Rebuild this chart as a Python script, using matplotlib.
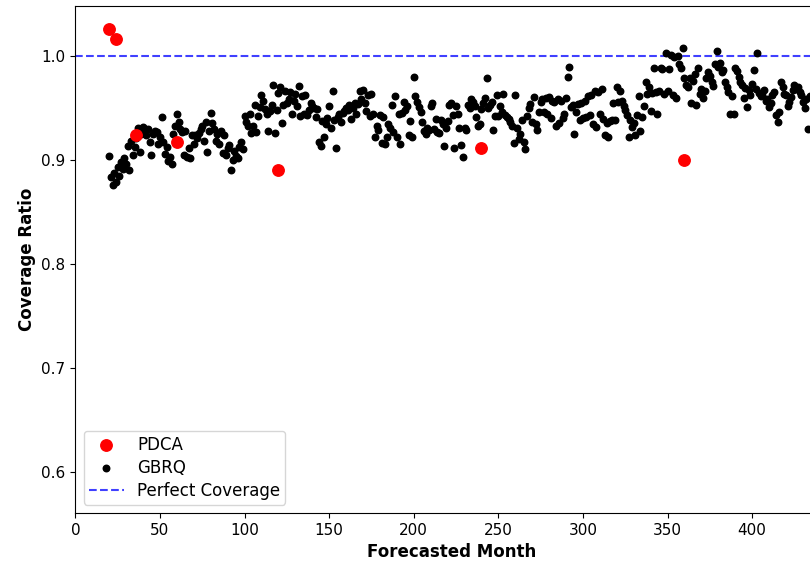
import numpy as np
import matplotlib
matplotlib.use("Agg")
import matplotlib.pyplot as plt

# PDCA forecasts (red)
pdca_month = [20, 24, 36, 60, 120, 240, 360]
pdca_cov = [1.026, 1.016, 0.924, 0.917, 0.890, 0.911, 0.900]

# GBRQ coverage, one value per month starting at month 20
gbrq_start = 20
gbrq_cov = [
    # 20-29
    0.904, 0.884, 0.876, 0.887, 0.879, 0.893, 0.885, 0.898, 0.891, 0.902,
    # 30-39
    0.896, 0.913, 0.890, 0.918, 0.905, 0.912, 0.921, 0.931, 0.908, 0.925,
    # 40-49
    0.932, 0.930, 0.924, 0.930, 0.917, 0.905, 0.925, 0.928, 0.927, 0.915,
    # 50-59
    0.922, 0.941, 0.917, 0.906, 0.912, 0.899, 0.903, 0.896, 0.925, 0.933,
    # 60-69
    0.944, 0.936, 0.930, 0.927, 0.905, 0.928, 0.903, 0.911, 0.902, 0.924,
    # 70-79
    0.915, 0.924, 0.921, 0.926, 0.930, 0.933, 0.918, 0.936, 0.908, 0.928,
    # 80-89
    0.945, 0.935, 0.930, 0.918, 0.925, 0.915, 0.928, 0.907, 0.924, 0.905,
    # 90-99
    0.911, 0.914, 0.890, 0.900, 0.909, 0.904, 0.902, 0.912, 0.917, 0.910,
    # 100-109
    0.942, 0.936, 0.933, 0.944, 0.926, 0.933, 0.953, 0.927, 0.942, 0.951,
    # 110-119
    0.962, 0.957, 0.949, 0.944, 0.928, 0.947, 0.953, 0.972, 0.926, 0.948,
    # 120-129
    0.964, 0.970, 0.935, 0.953, 0.966, 0.955, 0.958, 0.965, 0.944, 0.957,
    # 130-139
    0.963, 0.952, 0.971, 0.942, 0.961, 0.944, 0.962, 0.943, 0.948, 0.955,
    # 140-149
    0.952, 0.950, 0.941, 0.949, 0.917, 0.913, 0.937, 0.922, 0.934, 0.940,
    # 150-159
    0.952, 0.931, 0.966, 0.938, 0.911, 0.941, 0.944, 0.936, 0.945, 0.947,
    # 160-169
    0.950, 0.948, 0.953, 0.939, 0.950, 0.955, 0.944, 0.954, 0.966, 0.958,
    # 170-179
    0.967, 0.955, 0.947, 0.962, 0.942, 0.963, 0.944, 0.922, 0.933, 0.929,
    # 180-189
    0.943, 0.916, 0.941, 0.915, 0.922, 0.934, 0.931, 0.953, 0.927, 0.961,
    # 190-199
    0.922, 0.944, 0.915, 0.945, 0.956, 0.948, 0.952, 0.924, 0.937, 0.922,
    # 200-209
    0.980, 0.961, 0.956, 0.951, 0.946, 0.936, 0.928, 0.925, 0.931, 0.929,
    # 210-219
    0.952, 0.955, 0.930, 0.939, 0.927, 0.926, 0.938, 0.934, 0.913, 0.931,
    # 220-229
    0.937, 0.953, 0.955, 0.943, 0.911, 0.952, 0.944, 0.931, 0.914, 0.903,
    # 230-239
    0.931, 0.929, 0.953, 0.950, 0.958, 0.956, 0.952, 0.941, 0.933, 0.934,
    # 240-249
    0.949, 0.955, 0.959, 0.979, 0.950, 0.953, 0.956, 0.929, 0.942, 0.962,
    # 250-259
    0.942, 0.952, 0.946, 0.963, 0.943, 0.941, 0.939, 0.936, 0.933, 0.916,
    # 260-269
    0.962, 0.931, 0.920, 0.925, 0.938, 0.917, 0.910, 0.942, 0.950, 0.954,
    # 270-279
    0.936, 0.960, 0.934, 0.929, 0.946, 0.956, 0.958, 0.946, 0.959, 0.944,
    # 280-289
    0.960, 0.940, 0.957, 0.956, 0.933, 0.958, 0.935, 0.957, 0.940, 0.944,
    # 290-299
    0.959, 0.980, 0.989, 0.951, 0.953, 0.925, 0.946, 0.954, 0.938, 0.955,
    # 300-309
    0.940, 0.957, 0.941, 0.961, 0.943, 0.962, 0.934, 0.966, 0.932, 0.965,
    # 310-319
    0.944, 0.968, 0.939, 0.924, 0.935, 0.922, 0.937, 0.938, 0.955, 0.938,
    # 320-329
    0.970, 0.956, 0.966, 0.957, 0.952, 0.948, 0.943, 0.922, 0.938, 0.932,
    # 330-339
    0.935, 0.924, 0.943, 0.961, 0.928, 0.941, 0.952, 0.975, 0.963, 0.970,
    # 340-349
    0.947, 0.964, 0.988, 0.965, 0.944, 0.966, 0.988, 0.987, 0.963, 1.003,
    # 350-359
    0.966, 0.987, 1.001, 0.962, 0.999, 0.959, 1.000, 0.992, 0.988, 1.007,
    # 360-369
    0.979, 0.972, 0.970, 0.979, 0.955, 0.976, 0.982, 0.953, 0.988, 0.963,
    # 370-379
    0.968, 0.959, 0.966, 0.979, 0.984, 0.981, 0.975, 0.971, 0.992, 1.005,
    # 380-389
    0.989, 0.993, 0.984, 0.986, 0.975, 0.970, 0.965, 0.944, 0.961, 0.944,
    # 390-399
    0.988, 0.985, 0.980, 0.975, 0.972, 0.959, 0.969, 0.951, 0.967, 0.962,
    # 400-409
    0.973, 0.986, 0.968, 1.003, 0.964, 0.961, 0.962, 0.967, 0.957, 0.958,
    # 410-419
    0.951, 0.955, 0.962, 0.965, 0.943, 0.936, 0.946, 0.975, 0.970, 0.963,
    # 420-434
    0.962, 0.952, 0.956, 0.960, 0.967, 0.972, 0.968, 0.970, 0.965, 0.962,
    0.956, 0.950, 0.958, 0.930, 0.961,
]
gbrq_month = np.arange(gbrq_start, gbrq_start + len(gbrq_cov))

fig = plt.figure(figsize=(8.1, 5.63), dpi=100)
# axes run past the right edge, like the cropped original
ax = fig.add_axes([0.093, 0.0888, 0.9296, 0.901])

line = ax.axhline(1.0, color="blue", alpha=0.75, linestyle="--", linewidth=1.5,
                  zorder=1, label="Perfect Coverage")
gb = ax.scatter(gbrq_month, gbrq_cov, s=22, color="black", zorder=2, label="GBRQ")
pd_ = ax.scatter(pdca_month, pdca_cov, s=68, color="red", zorder=3, label="PDCA")

ax.set_xlim(0, 445)
ax.set_ylim(0.561, 1.048)
ax.set_xticks(np.arange(0, 401, 50))
ax.set_yticks([0.6, 0.7, 0.8, 0.9, 1.0])
ax.tick_params(labelsize=11)

ax.set_xlabel("Forecasted Month", fontsize=12, fontweight="bold")
ax.set_ylabel("Coverage Ratio", fontsize=12, fontweight="bold")

ax.legend(handles=[pd_, gb, line], loc="lower left", fontsize=12,
          labelspacing=0.3, borderpad=0.3, handlelength=2.1)

fig.savefig("out.png", dpi=100)
